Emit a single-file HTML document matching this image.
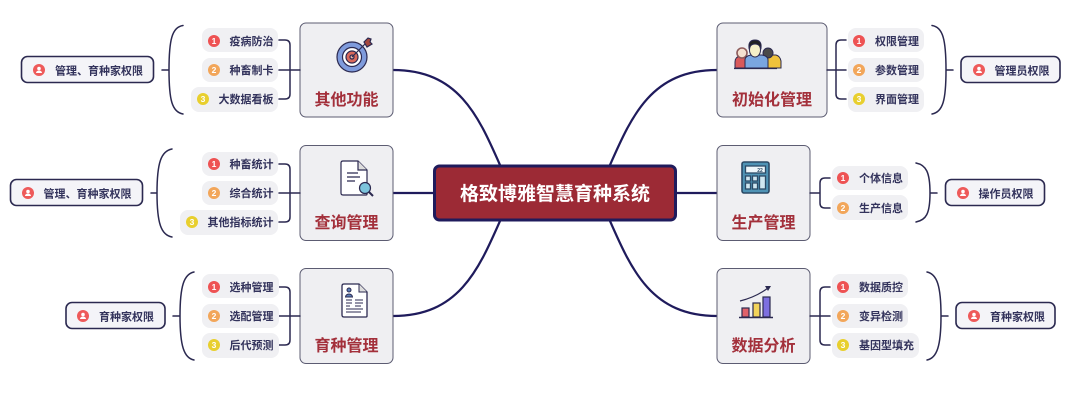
<!DOCTYPE html>
<html><head><meta charset="utf-8">
<style>
html,body{margin:0;padding:0;background:#fff;width:1080px;height:406px;overflow:hidden}
svg{display:block}
text{font-family:"Liberation Sans","Noto Sans CJK SC",sans-serif}
.l{fill:none;stroke:#1f1b5c;stroke-width:2.2}
.b{fill:none;stroke:#2b2950;stroke-width:1.5;stroke-linecap:round}
.box{fill:#efeff2;stroke:#5c5c72;stroke-width:1}
.pill{fill:#f0f0f3}
.t{font-size:11px;font-weight:700;fill:#33335c}
.h{font-size:16px;font-weight:700;fill:#a3303b;text-anchor:middle}
.tag{fill:#f4f4f8;stroke:#2b2950;stroke-width:1.6}
.n{font-size:8.500px;font-weight:700;fill:#fff;text-anchor:middle}
</style></head><body>
<svg width="1080" height="406" viewBox="0 0 1080 406" xmlns="http://www.w3.org/2000/svg">
<rect width="1080" height="406" fill="#fff"/>
<!-- main connectors -->
<path class="l" d="M500 165C478 115 458 70 393 70"/>
<path class="l" d="M433 193H393"/>
<path class="l" d="M500 221C478 271 458 316 393 316"/>
<path class="l" d="M610 165C632 115 652 70 717 70"/>
<path class="l" d="M677 193H717"/>
<path class="l" d="M610 221C632 271 652 316 717 316"/>
<!-- center -->
<rect x="434.500" y="166" width="241" height="54" rx="5" fill="#9c2a35" stroke="#1f1b5c" stroke-width="3"/>
<text x="555" y="200" font-size="19" font-weight="700" fill="#fff" text-anchor="middle">格致博雅智慧育种系统</text>

<!-- boxes -->
<rect class="box" x="300" y="23" width="93" height="94" rx="6"/>
<rect class="box" x="300" y="145.500" width="93" height="95" rx="6"/>
<rect class="box" x="300" y="268.500" width="93" height="95" rx="6"/>
<rect class="box" x="717" y="23" width="110" height="94" rx="6"/>
<rect class="box" x="717" y="145.500" width="93" height="95" rx="6"/>
<rect class="box" x="717" y="268.500" width="93" height="95" rx="6"/>
<text class="h" x="346.500" y="105">其他功能</text>
<text class="h" x="346.500" y="228">查询管理</text>
<text class="h" x="346.500" y="351">育种管理</text>
<text class="h" x="772" y="105">初始化管理</text>
<text class="h" x="763.500" y="228">生产管理</text>
<text class="h" x="763.500" y="351">数据分析</text>

<!-- brackets left -->
<g class="b">
<path d="M279 40H285Q290 40 290 45V94Q290 99 285 99H279M279 70H300"/>
<path d="M279 164H285Q290 164 290 169V217Q290 222 285 222H279M279 193H300"/>
<path d="M279 287H285Q290 287 290 292V340Q290 345 285 345H279M279 316H300"/>
<path d="M846 40H841Q836 40 836 45V94Q836 99 841 99H846M827 70H846"/>
<path d="M830 178H825Q820 178 820 183V203Q820 208 825 208H830M810 193H820"/>
<path d="M830 287H825Q820 287 820 292V340Q820 345 825 345H830M810 316H830"/>
<!-- braces -->
<path d="M183 25.500C172 27 169 40 169 70C169 100 172 112 183 114M162 70H169"/>
<path d="M172 149C161 151 157 163 157 193C157 223 161 235 172 237M151 193H157"/>
<path d="M194 272C184 274 180 286 180 316C180 346 184 358 194 360M173 316H180"/>
<path d="M932 25.500C943 27 946 40 946 70C946 100 943 112 932 114M946 70H953"/>
<path d="M916 163C926 165 930 172 930 193C930 214 926 220 916 222M930 193H937"/>
<path d="M927 272C937 274 941 286 941 316C941 346 937 358 927 360M941 316H948"/>
</g>

<!-- pills -->
<g class="pill">
<rect x="202" y="28" width="76" height="24" rx="8"/><rect x="202" y="58" width="76" height="24" rx="8"/><rect x="191" y="87" width="87" height="25" rx="8"/>
<rect x="202" y="152" width="76" height="24" rx="8"/><rect x="202" y="181" width="76" height="24" rx="8"/><rect x="180" y="210" width="98" height="25" rx="8"/>
<rect x="202" y="274" width="77" height="24" rx="8"/><rect x="202" y="304" width="77" height="24" rx="8"/><rect x="202" y="333" width="77" height="25" rx="8"/>
<rect x="848" y="28" width="76" height="24" rx="8"/><rect x="848" y="58" width="76" height="24" rx="8"/><rect x="848" y="87" width="76" height="25" rx="8"/>
<rect x="832" y="166" width="76" height="24" rx="8"/><rect x="832" y="195" width="76" height="25" rx="8"/>
<rect x="832" y="274" width="76" height="24" rx="8"/><rect x="832" y="304" width="76" height="24" rx="8"/><rect x="832" y="333" width="87" height="25" rx="8"/>
</g>

<!-- bullets -->
<g fill="#ee5253">
<circle cx="214" cy="41" r="6"/><circle cx="214" cy="164" r="6"/><circle cx="214" cy="287" r="6"/><circle cx="859" cy="41" r="6"/><circle cx="843" cy="178" r="6"/><circle cx="843" cy="287" r="6"/>
</g>
<g fill="#f2a65a">
<circle cx="214" cy="70" r="6"/><circle cx="214" cy="193" r="6"/><circle cx="214" cy="316" r="6"/><circle cx="859" cy="70" r="6"/><circle cx="843" cy="208" r="6"/><circle cx="843" cy="316" r="6"/>
</g>
<g fill="#e8cf2e">
<circle cx="203" cy="99" r="6"/><circle cx="192" cy="222" r="6"/><circle cx="214" cy="345" r="6"/><circle cx="859" cy="99" r="6"/><circle cx="843" cy="345" r="6"/>
</g>
<g class="n">
<text x="214" y="44">1</text><text x="214" y="167">1</text><text x="214" y="290">1</text><text x="859" y="44">1</text><text x="843" y="181">1</text><text x="843" y="290">1</text>
<text x="214" y="73">2</text><text x="214" y="196">2</text><text x="214" y="319">2</text><text x="859" y="73">2</text><text x="843" y="211">2</text><text x="843" y="319">2</text>
<text x="203" y="102">3</text><text x="192" y="225">3</text><text x="214" y="348">3</text><text x="859" y="102">3</text><text x="843" y="348">3</text>
</g>

<!-- pill text -->
<g class="t">
<text x="229.500" y="45">疫病防治</text><text x="229.500" y="74">种畜制卡</text><text x="218.500" y="103">大数据看板</text>
<text x="229.500" y="168">种畜统计</text><text x="229.500" y="197">综合统计</text><text x="207.500" y="226">其他指标统计</text>
<text x="229.500" y="291">选种管理</text><text x="229.500" y="320">选配管理</text><text x="229.500" y="349">后代预测</text>
<text x="875" y="45">权限管理</text><text x="875" y="74">参数管理</text><text x="875" y="103">界面管理</text>
<text x="859" y="182">个体信息</text><text x="859" y="212">生产信息</text>
<text x="859" y="291">数据质控</text><text x="859" y="320">变异检测</text><text x="859" y="349">基因型填充</text>
</g>

<!-- tags -->
<rect class="tag" x="21.500" y="56.500" width="132" height="26" rx="6"/>
<rect class="tag" x="10.500" y="179.500" width="132" height="26" rx="6"/>
<rect class="tag" x="66" y="302.500" width="99" height="26" rx="6"/>
<rect class="tag" x="961" y="56.500" width="99" height="26" rx="6"/>
<rect class="tag" x="945.500" y="179.500" width="99" height="26" rx="6"/>
<rect class="tag" x="956" y="302.500" width="99" height="26" rx="6"/>
<g fill="#ee5a5a">
<circle cx="39" cy="70" r="6"/><circle cx="28" cy="193" r="6"/><circle cx="83" cy="316" r="6"/><circle cx="979" cy="70" r="6"/><circle cx="963" cy="193" r="6"/><circle cx="974" cy="316" r="6"/>
</g>
<g fill="#fff">
<circle cx="39" cy="68.500" r="1.800"/><path d="M36 73a3 2.500 0 0 1 6 0z"/>
<circle cx="28" cy="191.500" r="1.800"/><path d="M25 196a3 2.500 0 0 1 6 0z"/>
<circle cx="83" cy="314.500" r="1.800"/><path d="M80 319a3 2.500 0 0 1 6 0z"/>
<circle cx="979" cy="68.500" r="1.800"/><path d="M976 73a3 2.500 0 0 1 6 0z"/>
<circle cx="963" cy="191.500" r="1.800"/><path d="M960 196a3 2.500 0 0 1 6 0z"/>
<circle cx="974" cy="314.500" r="1.800"/><path d="M971 319a3 2.500 0 0 1 6 0z"/>
</g>
<g class="t">
<text x="55" y="74.500">管理、育种家权限</text>
<text x="43.500" y="197.500">管理、育种家权限</text>
<text x="99" y="320.500">育种家权限</text>
<text x="994.500" y="74.500">管理员权限</text>
<text x="978.500" y="197.500">操作员权限</text>
<text x="990" y="320.500">育种家权限</text>
</g>

<!-- icon target -->
<g stroke="#2b2950" stroke-width="1.200">
<circle cx="352" cy="57" r="15" fill="#7f9bdc"/>
<circle cx="352" cy="57" r="9.500" fill="#fff"/>
<circle cx="352" cy="57" r="6" fill="#d9695c"/>
<circle cx="352" cy="57" r="2" fill="#f3b9a8"/>
<path d="M352 57L365 44" fill="none"/>
<path d="M364 42l4-4 3 1-1 3 2 2-5 3z" fill="#a5483e"/>
</g>
<!-- icon doc search -->
<g stroke="#2b2950" stroke-width="1.200" fill="none">
<path d="M343 161h15l9 9v24q0 1-1 1h-23q-2 0-2-2v-30q0-2 2-2z" fill="#fff"/>
<path d="M358 161v9h9" fill="#ddd"/>
<path d="M347 173h11M347 177h13M347 181h8"/>
<circle cx="365" cy="188" r="5.500" fill="#7cc4dc"/>
<path d="M369 192l4 4" stroke-width="2"/>
</g>
<!-- icon resume -->
<g stroke="#2b2950" stroke-width="1" fill="none">
<path d="M344 284h15l8 8v24q0 1-1 1h-22q-2 0-2-2v-29q0-2 2-2z" fill="#fff" stroke-width="1.300"/>
<path d="M359 284v8h8" fill="#ddd"/>
<circle cx="349" cy="290" r="2" fill="#5b7fb8"/>
<path d="M345.500 297a3.500 3 0 0 1 7 0z" fill="#5b7fb8"/>
<path d="M346 300h6M346 303h6M346 306h4M355 300h8M355 303h8M355 306h6M346 309h17M346 312h15"/>
</g>
<!-- icon people -->
<g stroke="#2b2950" stroke-width="1">
<path d="M735 68v-6q0-5 5-6h5q5 1 5 6v6z" fill="#d9595a"/>
<circle cx="742" cy="53" r="5" fill="#f4e0d0" stroke="#8c5a5a" stroke-width="1.600"/>
<path d="M765 68v-7q0-5 5-6h6q4 1 5 6v7z" fill="#f0c23c"/>
<circle cx="768" cy="53" r="5" fill="#4a4a4a"/>
<path d="M745 68v-8q0-4 6-5h11q6 1 6 5v8z" fill="#7aa6e0"/>
<ellipse cx="755" cy="50" rx="5.500" ry="7" fill="#f6f0c8"/>
<path d="M749 48q-1-8 6-8q7 0 6 8q-2-4-6-4t-6 4z" fill="#222"/>
<path d="M734 68.500H777" stroke-width="1.300"/>
</g>
<!-- icon calculator -->
<g stroke="#2b4a66" stroke-width="1.300">
<rect x="742" y="162" width="27" height="31" rx="2" fill="#4f93b5" stroke-width="1.600"/>
<rect x="745.500" y="166" width="20" height="7" fill="#eef6fa"/>
<g fill="#cfe6f0">
<rect x="745.500" y="176" width="5" height="5"/><rect x="752.500" y="176" width="5" height="5"/>
<rect x="745.500" y="183" width="5" height="6"/><rect x="752.500" y="183" width="5" height="6"/>
<rect x="759.500" y="176" width="6" height="13"/>
</g>
</g>
<text x="760" y="172" font-size="5" font-weight="700" fill="#2b4a66" text-anchor="middle">22</text>
<!-- icon chart -->
<g stroke="#2b2950" stroke-width="1.200">
<rect x="742" y="308" width="7" height="9" fill="#e0626a"/>
<rect x="753" y="303" width="7" height="14" fill="#f2d35a"/>
<rect x="763" y="297" width="7" height="20" fill="#7d6fe0"/>
<path d="M739 317.500H773" stroke-width="1.500"/>
<path d="M740 301Q756 297 768 288" fill="none"/>
</g>
<path d="M771 286l-6 0 3 5z" fill="#2b2950"/>
</svg>
</body></html>
